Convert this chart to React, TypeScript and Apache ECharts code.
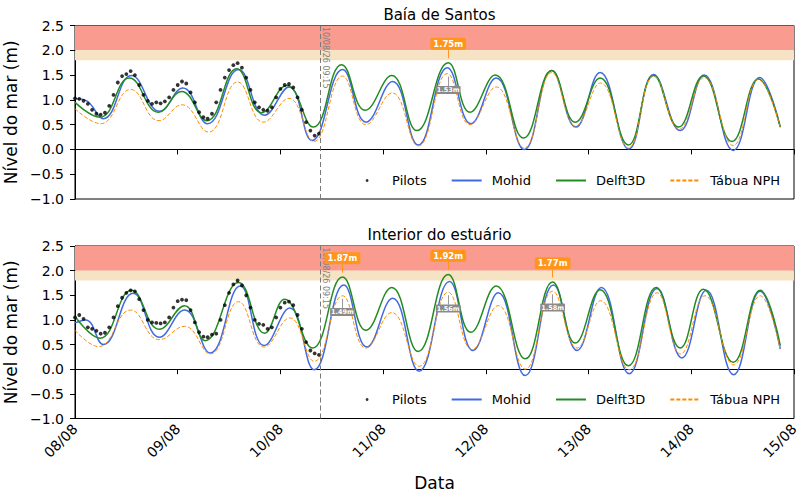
import React, { useEffect, useRef } from 'react';
import * as echarts from 'echarts';

const FONT = 'DejaVu Sans';

// x axis: hours since 08/08 00:00
const DAYS = ['08/08', '09/08', '10/08', '11/08', '12/08', '13/08', '14/08', '15/08'];
const CUT_HOUR = 57.25; // 10/08/26 09:15
const CUT_LABEL = '10/08/26 09:15';
const LEGEND_NAMES = ['Pilots', 'Mohid', 'Delft3D', 'Tábua NPH'];
const TITLES = ['Baía de Santos', 'Interior do estuário'];

// Pilots observations, hourly from 08/08 00:00
const pilotsTop = [1.03, 1.02, 0.98, 0.92, 0.8, 0.72, 0.7, 0.74, 0.88, 1.1, 1.35, 1.48, 1.52, 1.58, 1.5, 1.3, 1.1, 0.98, 0.92, 0.95, 0.93, 0.97, 1.05, 1.2, 1.3, 1.37, 1.33, 1.15, 0.95, 0.75, 0.65, 0.62, 0.72, 0.95, 1.2, 1.45, 1.6, 1.7, 1.74, 1.65, 1.45, 1.2, 0.95, 0.85, 0.8, 0.78, 0.85, 1.05, 1.22, 1.3, 1.32, 1.25, 1.05, 0.8, 0.55, 0.38, 0.28, 0.32];
const pilotsBot = [1.05, 1.1, 1.02, 0.85, 0.82, 0.78, 0.72, 0.74, 0.85, 1.05, 1.28, 1.45, 1.55, 1.6, 1.58, 1.42, 1.2, 1.0, 0.95, 0.94, 0.93, 0.95, 1.05, 1.25, 1.38, 1.41, 1.4, 1.2, 0.95, 0.75, 0.66, 0.65, 0.7, 0.72, 1.0, 1.3, 1.55, 1.72, 1.8, 1.7, 1.5, 1.25, 1.0, 0.92, 0.9, 0.82, 0.85, 1.05, 1.25, 1.35, 1.37, 1.3, 1.1, 0.82, 0.55, 0.38, 0.32, 0.29];

// Model series: [hour, level] at turning points
const mohidTop = [[0, 1.02], [2.5, 0.99], [6.6, 0.62], [13.2, 1.49], [19.8, 0.77], [25.2, 1.24], [31, 0.52], [38.2, 1.61], [44.3, 0.69], [50, 1.26], [55.4, 0.18], [62.5, 1.61], [68, 0.55], [74.2, 1.37], [80.2, 0.09], [87, 1.65], [92.5, 0.52], [98.4, 1.44], [105, 0.0], [111.4, 1.59], [117, 0.45], [122.7, 1.55], [129.4, 0.01], [135.2, 1.51], [141.4, 0.38], [147, 1.5], [153.8, -0.02], [160, 1.45], [164.8, 0.45]];
const delftTop = [[0, 0.95], [5.8, 0.65], [12.7, 1.44], [19.5, 0.75], [24.9, 1.17], [30.8, 0.58], [37.8, 1.63], [43.6, 0.74], [49.5, 1.29], [55.7, 0.45], [62.3, 1.71], [67.8, 0.79], [74, 1.49], [79.9, 0.38], [87.2, 1.75], [92.3, 0.75], [98.2, 1.5], [104.8, 0.23], [111.4, 1.59], [116.9, 0.55], [122.7, 1.44], [129.3, 0.09], [135.2, 1.49], [141, 0.45], [146.8, 1.48], [153.5, 0.16], [159.7, 1.42], [164.8, 0.45]];
const nphTop = [[0, 0.82], [6, 0.52], [13, 1.21], [19.6, 0.58], [25, 0.9], [31.2, 0.35], [38, 1.36], [44, 0.55], [50, 1.03], [55.8, 0.16], [62.5, 1.48], [68, 0.5], [74.1, 1.14], [80.2, 0.07], [87, 1.53], [92.3, 0.5], [98.4, 1.26], [105, 0.03], [111.4, 1.55], [117, 0.47], [122.8, 1.34], [129.3, 0.03], [135.2, 1.48], [141.2, 0.41], [147, 1.45], [153.8, 0.08], [159.7, 1.41], [164.8, 0.45]];

const mohidBot = [[0, 0.94], [2.5, 1.0], [6.6, 0.5], [13.6, 1.54], [19.7, 0.65], [25.6, 1.2], [31.6, 0.33], [38.6, 1.69], [44.2, 0.48], [50.2, 1.24], [55.9, -0.01], [62.8, 1.71], [68.2, 0.45], [74.2, 1.44], [80.4, -0.04], [87.5, 1.78], [93, 0.38], [98.9, 1.55], [105.2, -0.13], [111.8, 1.71], [117.3, 0.38], [123, 1.66], [129.5, -0.09], [136, 1.64], [141.8, 0.23], [147.5, 1.6], [153.9, -0.11], [160.1, 1.58], [164.8, 0.41]];
const delftBot = [[0, 1.07], [5.8, 0.63], [13.2, 1.6], [19.7, 0.81], [25.6, 1.29], [30.4, 0.58], [38.2, 1.76], [44.3, 0.73], [49, 1.42], [55.5, 0.43], [62.5, 1.87], [68, 0.79], [74, 1.66], [80.2, 0.36], [87.2, 1.92], [92.5, 0.75], [98.4, 1.69], [105.2, 0.21], [111.6, 1.77], [116.9, 0.53], [122.7, 1.61], [129.3, 0.07], [135.8, 1.66], [141.4, 0.43], [146.8, 1.62], [153.8, 0.14], [160.1, 1.6], [164.8, 0.48]];
const nphBot = [[0, 0.79], [5.5, 0.46], [13, 1.2], [19.7, 0.6], [25.6, 0.87], [31.6, 0.31], [38.2, 1.37], [44.2, 0.45], [50.2, 1.04], [55.9, 0.16], [62.5, 1.49], [68, 0.43], [74, 1.15], [80.4, 0.06], [87.2, 1.56], [92.8, 0.4], [98.9, 1.29], [105.2, 0.0], [111.6, 1.58], [117.3, 0.43], [122.8, 1.39], [129.5, -0.01], [136, 1.55], [141.5, 0.31], [147.2, 1.49], [153.9, 0.09], [160.1, 1.49], [164.8, 0.39]];

// Annotated peaks: [hour, level]
const peaksDelftTop = [[87.2, 1.75]];
const peaksNphTop = [[87.2, 1.53]];
const peaksDelftBot = [[62.5, 1.87], [87.2, 1.92], [111.6, 1.77]];
const peaksNphBot = [[62.5, 1.49], [87.2, 1.56], [111.6, 1.58]];

const C_MOHID = '#4169e1';
const C_DELFT = '#228b22';
const C_NPH = '#ff8c00';
const C_RED = '#fa9b8f';
const C_BEIGE = '#f6e3c3';
const C_ORANGE_BOX = '#ff951a';
const C_GRAY_BOX = '#8a8a8a';

const fmtY = (v: number) => (v < 0 ? '\u2212' + Math.abs(v).toFixed(1) : v.toFixed(1));

function buildOption() {
  const grids = [
    { left: 75, right: 6, top: 25.5, height: 173.5 },
    { left: 75, right: 6, top: 246, height: 172.5 },
  ].map((g) => ({
    ...g,
    containLabel: false,
    outerBoundsMode: 'none',
    show: true,
    borderColor: '#000',
    borderWidth: 1,
    backgroundColor: 'transparent',
  }));

  const xAxes = [0, 1].map((i) => ({
    type: 'value',
    gridIndex: i,
    min: 0,
    max: 168,
    interval: 24,
    splitLine: { show: false },
    axisLine: { show: true, lineStyle: { color: '#000', width: 1 } },
    axisTick: { show: true, length: 5, lineStyle: { color: '#000' } },
    axisLabel: i === 0
      ? { show: false }
      : {
          show: true,
          rotate: 45,
          margin: 8,
          fontSize: 14,
          fontFamily: FONT,
          color: '#000',
          formatter: (v: number) => DAYS[Math.round(v / 24)] ?? '',
        },
    name: i === 1 ? 'Data' : '',
    nameLocation: 'middle',
    nameGap: 56,
    nameTextStyle: { fontSize: 17, fontFamily: FONT, color: '#000' },
  }));

  const yAxes = [0, 1].map((i) => ({
    type: 'value',
    gridIndex: i,
    min: -1,
    max: 2.5,
    interval: 0.5,
    splitLine: { show: false },
    axisLine: { show: true, lineStyle: { color: '#000', width: 1 } },
    axisTick: { show: true, length: 5, lineStyle: { color: '#000' } },
    axisLabel: { fontSize: 14, fontFamily: FONT, color: '#000', margin: 11, formatter: fmtY },
    name: 'Nível do mar (m)',
    nameLocation: 'middle',
    nameGap: 42,
    nameTextStyle: { fontSize: 17, fontFamily: FONT, color: '#000' },
  }));

  const panels = [
    { pilots: pilotsTop, mohid: mohidTop, delft: delftTop, nph: nphTop, pd: peaksDelftTop, pn: peaksNphTop },
    { pilots: pilotsBot, mohid: mohidBot, delft: delftBot, nph: nphBot, pd: peaksDelftBot, pn: peaksNphBot },
  ];

  const series: any[] = [];
  panels.forEach((p, i) => {
    const ax = { xAxisIndex: i, yAxisIndex: i };
    series.push({
      type: 'line',
      ...ax,
      data: [],
      silent: true,
      z: 1,
      markArea: {
        silent: true,
        data: [
          [{ yAxis: 2.0, itemStyle: { color: C_RED } }, { yAxis: 2.5 }],
          [{ yAxis: 1.8, itemStyle: { color: C_BEIGE } }, { yAxis: 2.0 }],
        ],
      },
      markLine: {
        silent: true,
        symbol: ['none', 'none'],
        label: { show: false },
        lineStyle: { color: '#7a7a7a', type: [5, 3], width: 1 },
        data: [{ xAxis: CUT_HOUR }],
      },
      markPoint: {
        silent: true,
        symbol: 'circle',
        symbolSize: 0,
        data: [
          {
            coord: [CUT_HOUR, 2.47],
            label: {
              show: true,
              formatter: CUT_LABEL,
              position: [0, 0],
              rotate: -90,
              align: 'left',
              verticalAlign: 'bottom',
              fontSize: 8,
              fontFamily: FONT,
              color: '#808080',
              padding: [0, 0, 1, 0],
            },
          },
        ],
      },
    });
    series.push({
      name: 'Pilots',
      type: 'scatter',
      ...ax,
      data: p.pilots.map((v, h) => [h, v]),
      symbol: 'circle',
      symbolSize: 3.8,
      itemStyle: { color: '#000' },
      z: 4,
    });
    const line = (name: string, data: number[][], color: string, dashed: boolean) => ({
      name,
      type: 'line',
      ...ax,
      data,
      smooth: 0.45,
      symbol: 'none',
      showSymbol: false,
      lineStyle: { color, width: dashed ? 1 : 1.5, type: dashed ? [4, 2] : 'solid' },
      itemStyle: { color },
      z: 3,
    });
    series.push(line('Mohid', p.mohid, C_MOHID, false));
    series.push(line('Delft3D', p.delft, C_DELFT, false));
    series.push(line('Tábua NPH', p.nph, C_NPH, true));

    const orangeLabel = {
      show: true,
      position: 'inside',
      fontSize: 8.5,
      fontWeight: 'bold',
      fontFamily: FONT,
      color: '#fff',
      backgroundColor: C_ORANGE_BOX,
      padding: [2, 3, 1, 3],
      borderRadius: 2,
    };
    const grayLabel = {
      show: true,
      position: 'inside',
      fontSize: 6.5,
      fontWeight: 'bold',
      fontFamily: FONT,
      color: '#fff',
      backgroundColor: C_GRAY_BOX,
      padding: [1, 1, 0, 1],
      borderRadius: 1,
    };
    series.push({
      type: 'line',
      ...ax,
      data: [],
      silent: true,
      z: 6,
      markPoint: {
        silent: true,
        symbol: 'circle',
        symbolSize: 0,
        data: [
          ...p.pd.map(([h, v]) => ({
            coord: [h, v + 0.38],
            label: { ...orangeLabel, formatter: v.toFixed(2) + 'm' },
          })),
          ...p.pn.map(([h, v]) => ({
            coord: [h, v - 0.33],
            label: { ...grayLabel, formatter: v.toFixed(2) + 'm' },
          })),
        ],
      },
      markLine: {
        silent: true,
        symbol: ['none', 'triangle'],
        symbolSize: [0, 5],
        label: { show: false },
        lineStyle: { width: 1, type: 'solid' },
        data: [
          ...p.pd.map(([h, v]) => [
            { coord: [h, v + 0.26], lineStyle: { color: C_ORANGE_BOX, type: 'solid' }, itemStyle: { color: C_ORANGE_BOX } },
            { coord: [h, v + 0.09] },
          ]),
          ...p.pn.map(([h, v]) => [
            { coord: [h, v - 0.25], lineStyle: { color: '#9a9a9a', type: 'solid' }, itemStyle: { color: '#9a9a9a' } },
            { coord: [h, v - 0.06] },
          ]),
        ],
      },
    });
  });

  const legendData = LEGEND_NAMES.map((n) =>
    n === 'Pilots' ? { name: n } : { name: n, itemStyle: { opacity: 0 } }
  );
  const legends = [169, 388].map((top) => ({
    data: legendData,
    right: 15,
    top,
    orient: 'horizontal',
    itemWidth: 30,
    itemHeight: 2.8,
    itemGap: 24,
    selectedMode: false,
    textStyle: { fontSize: 13, fontFamily: FONT, color: '#000', padding: [0, 0, 0, 5] },
  }));

  const titles = [
    { text: TITLES[0], top: 2 },
    { text: TITLES[1], top: 222 },
  ].map((t) => ({
    ...t,
    left: 434.5,
    textAlign: 'center',
    textStyle: { fontSize: 15, fontWeight: 'normal', fontFamily: FONT, color: '#000' },
  }));

  return {
    animation: false,
    backgroundColor: '#fff',
    textStyle: { fontFamily: FONT },
    title: titles,
    grid: grids,
    xAxis: xAxes,
    yAxis: yAxes,
    legend: legends,
    series,
  };
}

export default function App() {
  const ref = useRef<HTMLDivElement>(null);
  useEffect(() => {
    if (!ref.current) return;
    const chart = echarts.init(ref.current, undefined, { renderer: 'svg' });
    chart.setOption(buildOption() as any);
    return () => chart.dispose();
  }, []);
  return <div ref={ref} style={{ width: 800, height: 498, position: 'absolute', left: 0, top: 0 }} />;
}
